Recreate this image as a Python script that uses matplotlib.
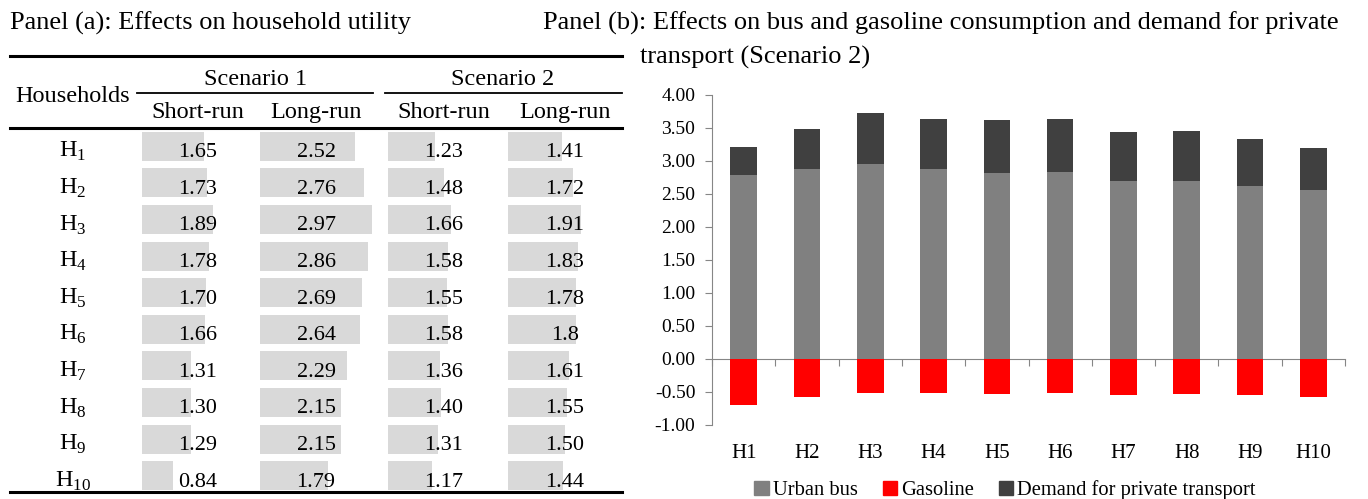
import numpy as np
import matplotlib
matplotlib.use("Agg")
import matplotlib.pyplot as plt
from matplotlib.patches import Patch

plt.rcParams['font.family'] = ['Liberation Serif', 'DejaVu Serif']
plt.rcParams['mathtext.fontset'] = 'custom'
plt.rcParams['mathtext.rm'] = 'Liberation Serif'

# Panel (a) data: effects on household utility
households = list(range(1, 11))
s1_short = ["1.65", "1.73", "1.89", "1.78", "1.70", "1.66", "1.31", "1.30", "1.29", "0.84"]
s1_long = ["2.52", "2.76", "2.97", "2.86", "2.69", "2.64", "2.29", "2.15", "2.15", "1.79"]
s2_short = ["1.23", "1.48", "1.66", "1.58", "1.55", "1.58", "1.36", "1.40", "1.31", "1.17"]
s2_long = ["1.41", "1.72", "1.91", "1.83", "1.78", "1.8", "1.61", "1.55", "1.50", "1.44"]

# Panel (b) data: scenario 2
cats = ["H1", "H2", "H3", "H4", "H5", "H6", "H7", "H8", "H9", "H10"]
urban_bus = [2.78, 2.87, 2.95, 2.87, 2.81, 2.83, 2.69, 2.69, 2.62, 2.56]
gasoline = [-0.70, -0.59, -0.52, -0.52, -0.54, -0.52, -0.56, -0.54, -0.56, -0.59]
private = [0.43, 0.60, 0.77, 0.76, 0.80, 0.80, 0.74, 0.76, 0.71, 0.63]

fig = plt.figure(figsize=(13.68, 4.99), dpi=100)

# ---- table, drawn in pixel-like coordinates ----
ax_t = fig.add_axes([0, 0, 1, 1])
ax_t.set_xlim(0, 1368)
ax_t.set_ylim(499, 0)
ax_t.axis('off')

ttl = 19
ax_t.text(10, 30, "Panel (a): Effects on household utility", fontsize=ttl, va='baseline')

ax_t.plot([10, 622], [56, 56], color='black', lw=2.2)
ax_t.plot([10, 622], [128, 128], color='black', lw=2.2)
ax_t.plot([10, 622], [492, 492], color='black', lw=2.2)
ax_t.plot([137, 373], [92.5, 92.5], color='black', lw=1.3)
ax_t.plot([385, 622], [92.5, 92.5], color='black', lw=1.3)

hdr = 17.5
ax_t.text(73, 102, "Households", fontsize=hdr, ha='center', va='baseline')
ax_t.text(256, 85, "Scenario 1", fontsize=hdr, ha='center', va='baseline')
ax_t.text(503, 85, "Scenario 2", fontsize=hdr, ha='center', va='baseline')

col_left = [141.5, 259.5, 388, 508]
col_mid = [198, 316, 444, 565]
for cx, name in zip(col_mid, ["Short-run", "Long-run", "Short-run", "Long-run"]):
    ax_t.text(cx, 118, name, fontsize=hdr, ha='center', va='baseline')

row_y = 146.2 + 36.6 * np.arange(len(households))
px_per_unit = 38.0
for left, mid, col in zip(col_left, col_mid, [s1_short, s1_long, s2_short, s2_long]):
    vals = np.array([float(v) for v in col])
    ax_t.barh(row_y, vals * px_per_unit, left=left, height=29, color='#D9D9D9', zorder=1)
    for y, s in zip(row_y, col):
        ax_t.text(mid, y + 11, s, fontsize=16, ha='center', va='baseline', zorder=2)

for y, h in zip(row_y, households):
    ax_t.text(73, y + 11, r"H$_\mathrm{%d}$" % h, fontsize=hdr, ha='center', va='baseline')

# ---- panel (b) chart ----
ax_t.text(543, 30, "Panel (b): Effects on bus and gasoline consumption and demand for private",
          fontsize=ttl, va='baseline')
ax_t.text(640, 64, "transport (Scenario 2)", fontsize=ttl, va='baseline')

ax = fig.add_axes([712 / 1368, (499 - 424.5) / 499, 633 / 1368, 330 / 499])
x = np.arange(len(cats))
w = 0.42
ax.bar(x, urban_bus, w, color='#808080', label='Urban bus', zorder=2)
ax.bar(x, gasoline, w, color='#FF0000', label='Gasoline', zorder=2)
ax.bar(x, private, w, bottom=urban_bus, color='#404040', label='Demand for private transport', zorder=2)

ax.set_xlim(-0.5, len(cats) - 0.5)
ax.set_ylim(-1, 4)
yt = np.arange(-1, 4.01, 0.5)
ax.set_yticks(yt)
ax.set_yticklabels([f"{v:.2f}" for v in yt])
ax.set_xticks(x)
ax.set_xticklabels(cats)
ax.tick_params(axis='x', length=0, pad=14, labelsize=15)
ax.tick_params(axis='y', direction='out', length=5, color='#868686', labelsize=14, pad=7)
for s in ['top', 'right', 'bottom']:
    ax.spines[s].set_visible(False)
ax.spines['left'].set_color('#868686')
ax.patch.set_alpha(0)

zero = ax.secondary_xaxis(0, transform=ax.transData)
zero.set_xticks(np.arange(-0.5, len(cats), 1.0))
zero.set_xticklabels([])
zero.tick_params(direction='out', length=5, color='#868686')
zero.spines['bottom'].set_color('#868686')

handles = [Patch(color='#808080'), Patch(color='#FF0000'), Patch(color='#404040')]
fig.legend(handles, ['Urban bus', 'Gasoline', 'Demand for private transport'],
           loc='center', bbox_to_anchor=(1005 / 1368, 1 - 490 / 499), ncol=3, frameon=False,
           fontsize=14.8, handlelength=0.7, handleheight=0.7, handletextpad=0.2,
           columnspacing=1.2, borderpad=0)

fig.savefig("out.png", dpi=100)
